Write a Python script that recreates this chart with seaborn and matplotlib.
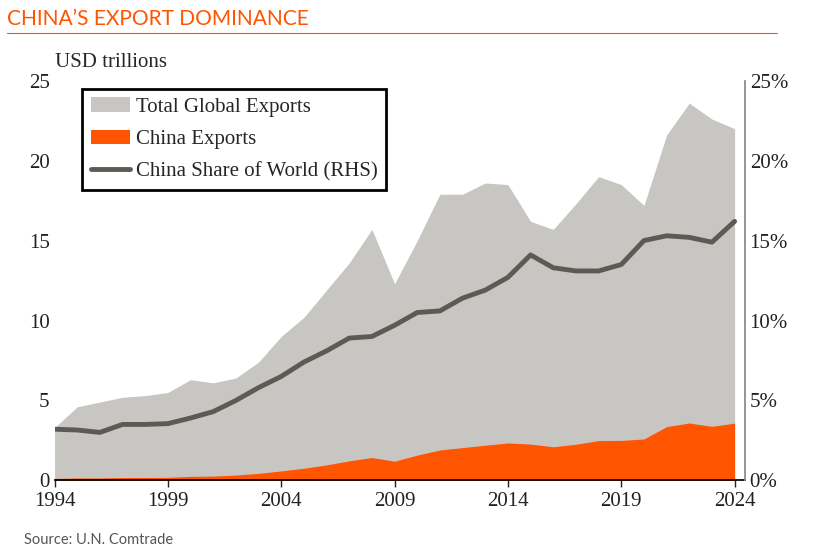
import matplotlib
matplotlib.use("Agg")
import matplotlib.pyplot as plt
import seaborn as sns
import pandas as pd

years = list(range(1994, 2025))
total = [3.3,4.6,4.9,5.2,5.3,5.5,6.3,6.1,6.4,7.4,9.0,10.2,11.9,13.6,15.7,12.3,15.0,17.9,17.9,18.6,18.5,16.2,15.7,17.3,19.0,18.5,17.2,21.6,23.6,22.6,22.0]
china = [0.12,0.15,0.15,0.18,0.18,0.19,0.25,0.27,0.33,0.44,0.59,0.76,0.97,1.22,1.43,1.2,1.58,1.9,2.05,2.2,2.34,2.27,2.1,2.26,2.49,2.5,2.59,3.36,3.59,3.38,3.58]
share = [3.2,3.15,3.0,3.5,3.5,3.55,3.9,4.3,5.0,5.8,6.5,7.4,8.1,8.9,9.0,9.7,10.5,10.6,11.4,11.9,12.7,14.1,13.3,13.1,13.1,13.5,15.0,15.3,15.2,14.9,16.2]
df = pd.DataFrame({"year": years, "total": total, "china": china, "share": share})

sns.set_theme(style="white")
plt.rcParams['font.family'] = ['Liberation Serif', 'DejaVu Serif']
fig = plt.figure(figsize=(8.14, 5.49), dpi=100)
ax = fig.add_axes([0.067, 0.125, 0.848, 0.728])
ax.fill_between(df.year, df.total, color="#c8c6c3", lw=0, label="Total Global Exports")
ax.fill_between(df.year, df.china, color="#ff5400", lw=0, label="China Exports")
ax2 = ax.twinx()
sns.lineplot(data=df, x="year", y="share", ax=ax2, color="#5f5954", lw=3.5, label="China Share of World (RHS)", legend=False)
ax.set_xlim(1994, 2024.45)
ax.set_ylim(0, 25)
ax2.set_ylim(0, 25)
ax.set_xticks(range(1994, 2025, 5))
ax.set_yticks(range(0, 26, 5))
ax2.set_yticks(range(0, 26, 5))
ax2.set_yticklabels([f"{v}%" for v in range(0, 26, 5)])
for a in (ax, ax2):
    a.tick_params(labelsize=15, colors="#222222", length=0)
    for s in a.spines.values():
        s.set_visible(False)
ax.tick_params(axis='x', length=5, direction='out', bottom=True, width=1)
ax.spines['bottom'].set_visible(True); ax.spines['bottom'].set_color('black')
ax2.spines['right'].set_visible(True); ax2.spines['right'].set_color('#888888')
ax.set_xlabel(""); ax2.set_xlabel(""); ax2.set_ylabel(""); ax.set_ylabel("")
h1, l1 = ax.get_legend_handles_labels()
h2, l2 = ax2.get_legend_handles_labels()
leg = ax2.legend(h1 + h2, l1 + l2, loc="upper left", bbox_to_anchor=(0.025, 1.005), fontsize=15,
                 frameon=True, fancybox=False, edgecolor="black", framealpha=1, borderpad=0.4,
                 handlelength=1.9, handletextpad=0.3, labelspacing=0.6)
leg.get_frame().set_linewidth(2)
fig.text(0.067, 0.878, "USD trillions", fontsize=15)
fig.text(0.008, 0.955, "CHINA’S EXPORT DOMINANCE", fontsize=15, color="#ff5400", family="Lato")
fig.add_artist(plt.Line2D([0.008, 0.955], [0.94, 0.94], color="#ff5400", lw=0.8))
fig.text(0.03, 0.01, "Source: U.N. Comtrade", fontsize=10.5, color="#555555", family="Lato")
fig.savefig("out.png", dpi=100)
